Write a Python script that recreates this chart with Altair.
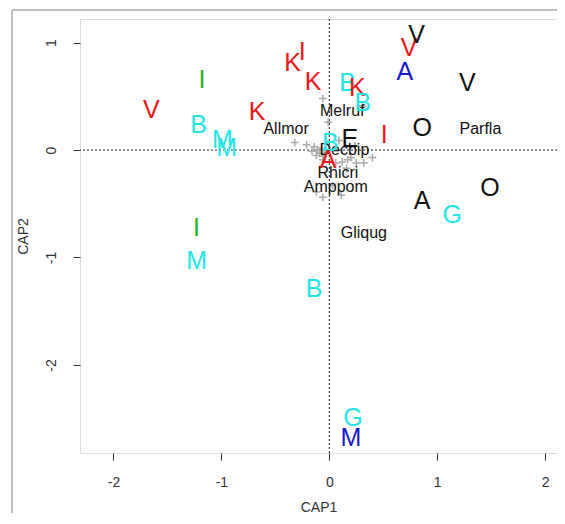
import altair as alt
import pandas as pd

# ---- data ----
site_labels = ["V", "I", "B", "M", "M", "K", "K", "I", "K", "B", "K", "B", "V", "V", "A",
               "V", "O", "I", "E", "B", "A", "A", "G", "O", "I", "M", "B", "G", "M"]
site_x = [-1.65, -1.18, -1.21, -0.99, -0.95, -0.67, -0.34, -0.25, -0.15, 0.17, 0.26, 0.31, 0.74, 0.81, 0.70,
          1.28, 0.86, 0.51, 0.19, 0.01, -0.01, 0.86, 1.14, 1.49, -1.23, -1.23, -0.14, 0.22, 0.20]
site_y = [0.37, 0.65, 0.23, 0.09, 0.02, 0.35, 0.81, 0.91, 0.63, 0.62, 0.58, 0.44, 0.95, 1.07, 0.73,
          0.62, 0.21, 0.14, 0.10, 0.065, -0.09, -0.47, -0.60, -0.35, -0.73, -1.03, -1.29, -2.49, -2.68]
site_group = ["red", "green", "cyan", "cyan", "cyan", "red", "red", "red", "red", "cyan", "red", "cyan", "red", "black", "blue",
              "black", "black", "red", "black", "cyan", "red", "black", "cyan", "black", "green", "cyan", "cyan", "cyan", "blue"]

species_labels = ["Melruf", "Allmor", "Decbip", "Rhicri", "Amppom", "Gliqug", "Parfla"]
species_x = [0.12, -0.40, 0.14, 0.08, 0.06, 0.32, 1.40]
species_y = [0.36, 0.20, 0.0, -0.21, -0.34, -0.77, 0.20]

cross_x = [-0.06, -0.01, -0.32, -0.21, -0.14, -0.11, -0.09, -0.07, -0.06, -0.04, -0.12, -0.16, -0.06,
           0.06, 0.12, 0.17, 0.20, 0.25, 0.16, 0.40, 0.32, 0.31, -0.12, 0.11, -0.06, 0.03, 0.09, 0.24]
cross_y = [0.48, 0.26, 0.07, 0.05, 0.03, 0.00, -0.03, 0.02, -0.06, -0.02, -0.05, -0.01, -0.09,
           -0.12, -0.11, -0.09, -0.07, -0.12, -0.17, -0.07, -0.12, 0.41, -0.39, -0.42, -0.44, -0.33, 0.09, 0.04]

x_ticks = [-2, -1, 0, 1, 2]
y_ticks = [-2, -1, 0, 1]
group_names = ["black", "red", "green", "blue", "cyan"]
group_colors = ["#111111", "#ee1515", "#22b422", "#1818cc", "#22e6e6"]

sites = pd.DataFrame({"x": site_x, "y": site_y, "lab": site_labels, "grp": site_group})
species = pd.DataFrame({"x": species_x, "y": species_y, "lab": species_labels})
crosses = pd.DataFrame({"x": cross_x, "y": cross_y})
zero = pd.DataFrame({"v": [0]})
one = pd.DataFrame({"a": [0]})

xs = alt.Scale(domain=[-2.31, 2.11], nice=False, zero=False)
ys = alt.Scale(domain=[-2.82, 1.22], nice=False, zero=False)
FONT = "Liberation Sans"

x_axis = alt.Axis(values=x_ticks, title="CAP1", grid=False, domain=False, tickSize=7,
                  tickColor="#333", labelColor="#333", labelFontSize=14, labelFont=FONT,
                  labelExpr="'' + datum.value",
                  labelPadding=15, titleFont=FONT, titleFontSize=14, titleFontWeight="normal",
                  titleColor="#333", titlePadding=11, labelFlush=False)
y_axis = alt.Axis(values=y_ticks, title="CAP2", grid=False, domain=False, tickSize=7,
                  tickColor="#333", labelColor="#333", labelFontSize=14, labelFont=FONT,
                  labelExpr="'' + datum.value",
                  labelAngle=270, labelAlign="center", labelBaseline="alphabetic",
                  labelPadding=18, titleFont=FONT, titleFontSize=14, titleFontWeight="normal",
                  titleColor="#333", titlePadding=14, labelFlush=False)

frame_h = alt.Chart(one).mark_rule(color="#aaaaaa", strokeWidth=1.5).encode(
    x=alt.value(-68), x2=alt.value(490), y=alt.value(-9))
frame_v = alt.Chart(one).mark_rule(color="#aaaaaa", strokeWidth=1.5).encode(
    x=alt.value(-68), y=alt.value(-9), y2=alt.value(510))

vline = alt.Chart(zero).mark_rule(color="#222", strokeDash=[2, 2], strokeWidth=1).encode(
    x=alt.X("v:Q", scale=xs, axis=x_axis))
hline = alt.Chart(zero).mark_rule(color="#222", strokeDash=[2, 2], strokeWidth=1).encode(
    y=alt.Y("v:Q", scale=ys, axis=y_axis))

cross_layer = alt.Chart(crosses).mark_point(
    shape="M-1,0L1,0M0,-1L0,1", filled=False, color="#aaaaaa", size=60, strokeWidth=1.5, opacity=1
).encode(x=alt.X("x:Q", scale=xs), y=alt.Y("y:Q", scale=ys))

species_layer = alt.Chart(species).mark_text(
    font=FONT, fontSize=16, color="#111", baseline="middle", align="center"
).encode(x=alt.X("x:Q", scale=xs), y=alt.Y("y:Q", scale=ys), text="lab:N")

site_layer = alt.Chart(sites).mark_text(
    font=FONT, fontSize=25, baseline="middle", align="center"
).encode(
    x=alt.X("x:Q", scale=xs), y=alt.Y("y:Q", scale=ys), text="lab:N",
    color=alt.Color("grp:N", scale=alt.Scale(domain=group_names, range=group_colors), legend=None))

chart = alt.layer(vline, hline, cross_layer, species_layer, site_layer, frame_h, frame_v).properties(
    width=477, height=434,
    autosize=alt.AutoSizeParams(type="none"),
    padding={"left": 72, "top": 11, "right": 0, "bottom": 60},
).configure_view(stroke="#222", strokeWidth=1.2).configure(background="white")

chart.save("out.html", embed_options={"renderer": "svg", "actions": False})
